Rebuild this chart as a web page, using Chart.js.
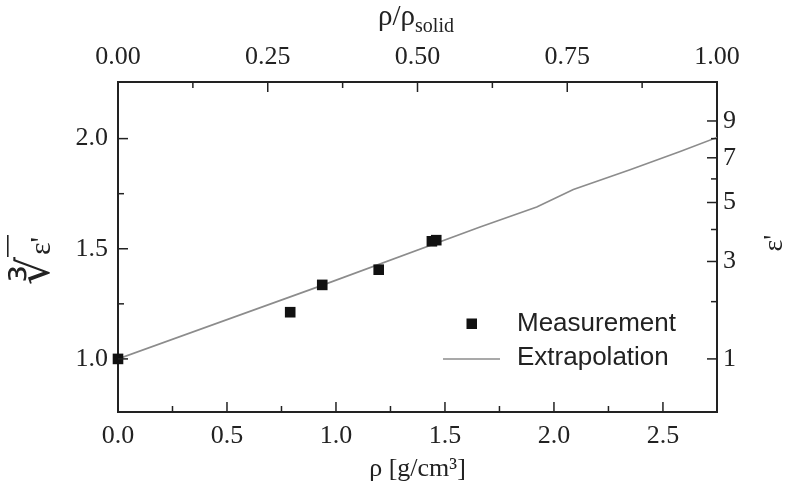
<!DOCTYPE html>
<html>
<head>
<meta charset="utf-8">
<script src="https://cdn.jsdelivr.net/npm/chart.js@4.4.1/dist/chart.umd.min.js"></script>
<style>
  html, body { margin: 0; padding: 0; background: #fff; }
  #wrap { width: 786px; height: 487px; position: relative; }
</style>
</head>
<body>
<div id="wrap"><canvas id="chart" width="786" height="487"></canvas></div>
<script>
// Measurement: density rho [g/cm^3] vs cube root of eps'
const measRho = [0.0, 0.79, 0.937, 1.196, 1.44, 1.46];
const measCbrtEps = [1.0, 1.212, 1.336, 1.405, 1.534, 1.539];

// Extrapolation curve
const extRho = [0.0, 0.917, 1.661, 1.921, 2.089, 2.349, 2.579, 2.748];
const extCbrtEps = [1.0, 1.327, 1.599, 1.690, 1.769, 1.859, 1.942, 2.005];

// Axis ticks
const rhoTicks = [0, 0.5, 1.0, 1.5, 2.0, 2.5];
const rhoMinor = [0.25, 0.75, 1.25, 1.75, 2.25];
const relTicks = [0, 0.25, 0.5, 0.75, 1.0];
const relMinor = [0.125, 0.375, 0.625, 0.875];
const cbrtTicks = [1.0, 1.5, 2.0];
const cbrtMinor = [1.25, 1.75];
const epsTicks = [1, 3, 5, 7, 9];
const epsMinor = [2, 4, 6, 8];

const INK = '#222';
const LINE_GRAY = '#8c8c8c';
const SERIF = '"Liberation Serif", "Times New Roman", serif';
const SANS = '"Liberation Sans", Arial, sans-serif';

function fixedTicks(vals) {
  return scale => { scale.ticks = vals.map(v => ({ value: v })); };
}

// inward tick marks, axis titles and the legend
const decor = {
  id: 'decor',
  afterDraw(chart) {
    const { ctx, chartArea: a, scales } = chart;
    const MAJ = 10, MIN = 6;
    ctx.save();
    ctx.strokeStyle = INK;
    ctx.lineWidth = 1.5;

    const hTicks = (scale, vals, len, y, dir) => vals.forEach(v => {
      const x = scale.getPixelForValue(v);
      ctx.beginPath(); ctx.moveTo(x, y); ctx.lineTo(x, y + dir * len); ctx.stroke();
    });
    const vTicks = (scale, vals, len, x, dir) => vals.forEach(v => {
      const y = scale.getPixelForValue(v);
      ctx.beginPath(); ctx.moveTo(x, y); ctx.lineTo(x + dir * len, y); ctx.stroke();
    });

    hTicks(scales.x, rhoTicks, MAJ, a.bottom, -1);
    hTicks(scales.x, rhoMinor, MIN, a.bottom, -1);
    hTicks(scales.xTop, relTicks, MAJ, a.top, 1);
    hTicks(scales.xTop, relMinor, MIN, a.top, 1);
    vTicks(scales.y, cbrtTicks, MAJ, a.left, 1);
    vTicks(scales.y, cbrtMinor, MIN, a.left, 1);
    vTicks(scales.yEps, epsTicks.map(Math.cbrt), MAJ, a.right, -1);
    vTicks(scales.yEps, epsMinor.map(Math.cbrt), MIN, a.right, -1);

    ctx.fillStyle = INK;
    ctx.textBaseline = 'alphabetic';
    ctx.textAlign = 'left';

    // top title: rho / rho_solid
    ctx.font = '29px ' + SERIF;
    const main = 'ρ/ρ';
    const wMain = ctx.measureText(main).width;
    ctx.font = '20px ' + SERIF;
    const wSub = ctx.measureText('solid').width;
    const x0 = 416 - (wMain + wSub) / 2;
    ctx.font = '29px ' + SERIF;
    ctx.fillText(main, x0, 25);
    ctx.font = '20px ' + SERIF;
    ctx.fillText('solid', x0 + wMain, 32);

    // right title: eps'
    ctx.save();
    ctx.translate(775, 243);
    ctx.rotate(-Math.PI / 2);
    ctx.font = '28px ' + SERIF;
    ctx.textAlign = 'center';
    ctx.textBaseline = 'middle';
    ctx.fillText("ε'", 0, 0);
    ctx.restore();

    // left title: cube root of eps'
    ctx.save();
    ctx.translate(32, 255);
    ctx.rotate(-Math.PI / 2);
    ctx.font = '44px "DejaVu Sans", sans-serif';
    const mR = ctx.measureText('∛');
    const base = 17;
    ctx.fillText('∛', -30, base);
    const topV = base - mR.actualBoundingBoxAscent;
    const rootRight = -30 + mR.actualBoundingBoxRight;
    ctx.font = '30px ' + SERIF;
    const wEps = ctx.measureText("ε'").width;
    ctx.fillText("ε'", rootRight + 1, 18);
    ctx.lineWidth = 1.6;
    ctx.beginPath();
    ctx.moveTo(rootRight - 1, topV + 0.8);
    ctx.lineTo(rootRight + wEps + 3, topV + 0.8);
    ctx.stroke();
    ctx.restore();

    // legend
    const ds = chart.data.datasets;
    ctx.font = '26px ' + SANS;
    ctx.textBaseline = 'middle';
    ctx.fillStyle = ds[0].backgroundColor;
    ctx.fillRect(466.5, 318.5, 10.5, 10.5);
    ctx.strokeStyle = ds[1].borderColor;
    ctx.lineWidth = ds[1].borderWidth;
    ctx.beginPath(); ctx.moveTo(443, 359); ctx.lineTo(500, 359); ctx.stroke();
    ctx.fillStyle = INK;
    ctx.fillText(ds[0].label, 517, 324);
    ctx.fillText(ds[1].label, 517, 358);

    ctx.restore();
  }
};

const axisBase = {
  type: 'linear',
  grid: { display: true, drawOnChartArea: false, drawTicks: false },
  border: { display: true, color: INK, width: 2 }
};
const tickFont = { family: SERIF, size: 26 };

new Chart(document.getElementById('chart'), {
  type: 'scatter',
  data: {
    datasets: [
      {
        label: 'Measurement',
        data: measRho.map((r, i) => ({ x: r, y: measCbrtEps[i] })),
        pointStyle: 'rect',
        pointRadius: 7.5,
        backgroundColor: '#111',
        borderColor: '#111',
        borderWidth: 0,
        clip: false
      },
      {
        label: 'Extrapolation',
        data: extRho.map((r, i) => ({ x: r, y: extCbrtEps[i] })),
        showLine: true,
        pointRadius: 0,
        borderColor: LINE_GRAY,
        borderWidth: 1.6,
        backgroundColor: LINE_GRAY
      }
    ]
  },
  options: {
    responsive: false,
    animation: false,
    layout: { padding: 0 },
    plugins: { legend: { display: false }, tooltip: { enabled: false } },
    scales: {
      x: {
        ...axisBase, position: 'bottom', min: 0, max: 2.748,
        afterBuildTicks: fixedTicks(rhoTicks),
        afterFit: s => { s.height = 75; },
        ticks: { color: INK, font: tickFont, padding: 9, maxRotation: 0, autoSkip: false,
                 callback: v => v.toFixed(1) },
        title: { display: true, text: 'ρ [g/cm³]', color: INK,
                 font: { family: SERIF, size: 26 }, padding: { top: 0, bottom: 2 } }
      },
      xTop: {
        ...axisBase, position: 'top', min: 0, max: 1,
        afterBuildTicks: fixedTicks(relTicks),
        afterFit: s => { s.height = 82; },
        ticks: { color: INK, font: tickFont, padding: 9, maxRotation: 0, autoSkip: false,
                 callback: v => v.toFixed(2) }
      },
      y: {
        ...axisBase, position: 'left', min: 0.759, max: 2.257,
        afterBuildTicks: fixedTicks(cbrtTicks),
        afterFit: s => { s.width = 118; },
        ticks: { color: INK, font: tickFont, padding: 10, autoSkip: false,
                 callback: v => v.toFixed(1) }
      },
      yEps: {
        ...axisBase, position: 'right', min: 0.759, max: 2.257,
        afterBuildTicks: fixedTicks(epsTicks.map(Math.cbrt)),
        afterFit: s => { s.width = 69; },
        ticks: { color: INK, font: tickFont, padding: 6, autoSkip: false,
                 callback: v => String(Math.round(v * v * v)) }
      }
    }
  },
  plugins: [decor]
});
</script>
</body>
</html>
